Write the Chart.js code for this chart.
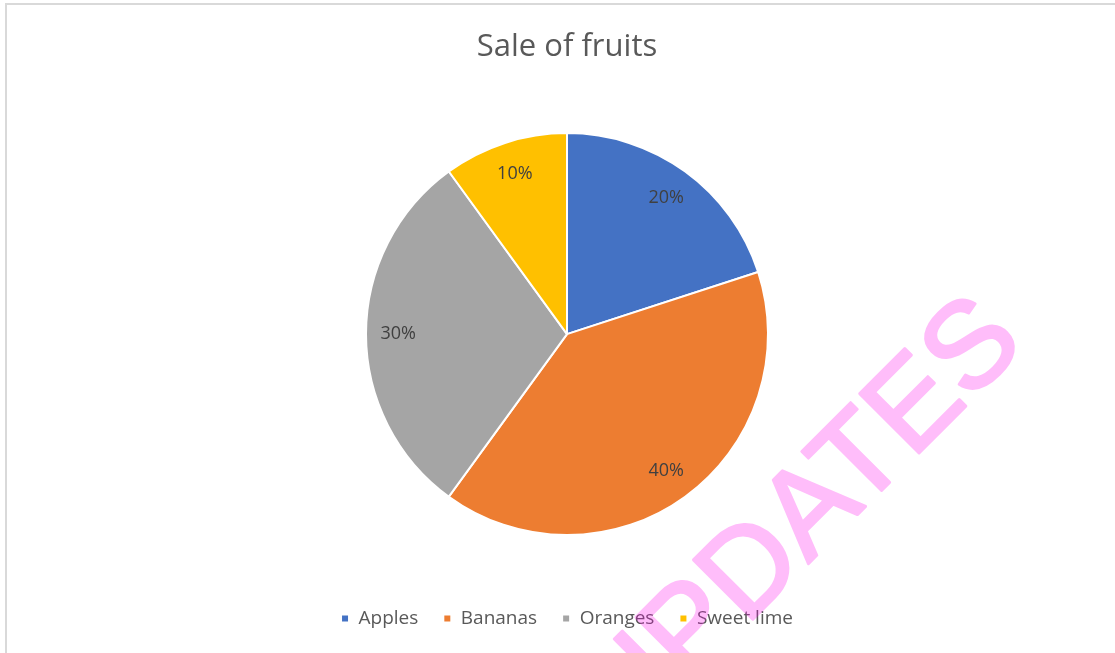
<!DOCTYPE html>
<html>
<head>
<meta charset="utf-8">
<script src="https://cdn.jsdelivr.net/npm/chart.js@4/dist/chart.umd.min.js"></script>
<style>
  html, body { margin: 0; padding: 0; background: #fff; }
  #frame {
    position: absolute; left: 5px; top: 3px; width: 1200px; height: 700px;
    border-left: 2px solid #d9d9d9; border-top: 2px solid #d9d9d9;
    box-sizing: border-box;
  }
  #wrap { position: absolute; left: 0; top: 0; width: 1115px; height: 653px; }
</style>
</head>
<body>
<div id="frame"></div>
<div id="wrap"><canvas id="fruitChart"></canvas></div>
<script>
const fruits = ['Apples', 'Bananas', 'Oranges', 'Sweet lime'];
const sales = [20, 40, 30, 10];
const sliceColors = ['#4472C4', '#ED7D31', '#A5A5A5', '#FFC000'];

// percentage labels placed inside each slice
const sliceLabels = {
  id: 'sliceLabels',
  afterDatasetsDraw(chart) {
    const ctx = chart.ctx;
    const meta = chart.getDatasetMeta(0);
    const values = chart.data.datasets[0].data;
    const total = values.reduce((a, b) => a + b, 0);
    ctx.save();
    ctx.font = '18px "Open Sans"';
    ctx.fillStyle = '#404040';
    ctx.textAlign = 'center';
    ctx.textBaseline = 'middle';
    meta.data.forEach((arc, i) => {
      const p = arc.getProps(['x', 'y', 'startAngle', 'endAngle', 'outerRadius'], true);
      const mid = (p.startAngle + p.endAngle) / 2;
      const r = p.outerRadius * 0.84;
      const pct = Math.round(values[i] / total * 100) + '%';
      ctx.fillText(pct, p.x + Math.cos(mid) * r, p.y + Math.sin(mid) * r);
    });
    ctx.restore();
  }
};

// diagonal stamp across the lower right, drawn solid then laid on semi-transparent
const stamp = {
  id: 'stamp',
  afterDraw(chart) {
    const ctx = chart.ctx;
    const layer = document.createElement('canvas');
    layer.width = chart.width;
    layer.height = chart.height;
    const lc = layer.getContext('2d');
    lc.translate(626, 746);
    lc.rotate(-Math.PI / 4);
    lc.font = '122px "Liberation Sans"';
    lc.fillStyle = '#ff00eb';
    lc.strokeStyle = '#ff00eb';
    lc.lineWidth = 3;
    lc.lineJoin = 'round';
    lc.fillText('UPDATES', 0, 0);
    lc.strokeText('UPDATES', 0, 0);
    ctx.save();
    ctx.globalAlpha = 0.26;
    ctx.drawImage(layer, 0, 0, chart.width, chart.height);
    ctx.restore();
  }
};

new Chart(document.getElementById('fruitChart'), {
  type: 'pie',
  data: {
    labels: fruits,
    datasets: [{
      data: sales,
      backgroundColor: sliceColors,
      borderColor: '#ffffff',
      borderWidth: 2
    }]
  },
  plugins: [sliceLabels, stamp],
  options: {
    responsive: true,
    maintainAspectRatio: false,
    animation: false,
    radius: 201,
    layout: {
      padding: { left: 19, right: 0, top: 0, bottom: 15 }
    },
    plugins: {
      tooltip: { enabled: false },
      title: {
        display: true,
        text: 'Sale of fruits',
        color: '#595959',
        font: { family: '"Open Sans"', size: 31, weight: 'normal' },
        padding: { top: 29, bottom: 18 }
      },
      legend: {
        position: 'bottom',
        labels: {
          color: '#595959',
          font: { family: '"Open Sans"', size: 19 },
          boxWidth: 8,
          boxHeight: 8,
          padding: 25
        }
      }
    }
  }
});
</script>
</body>
</html>
